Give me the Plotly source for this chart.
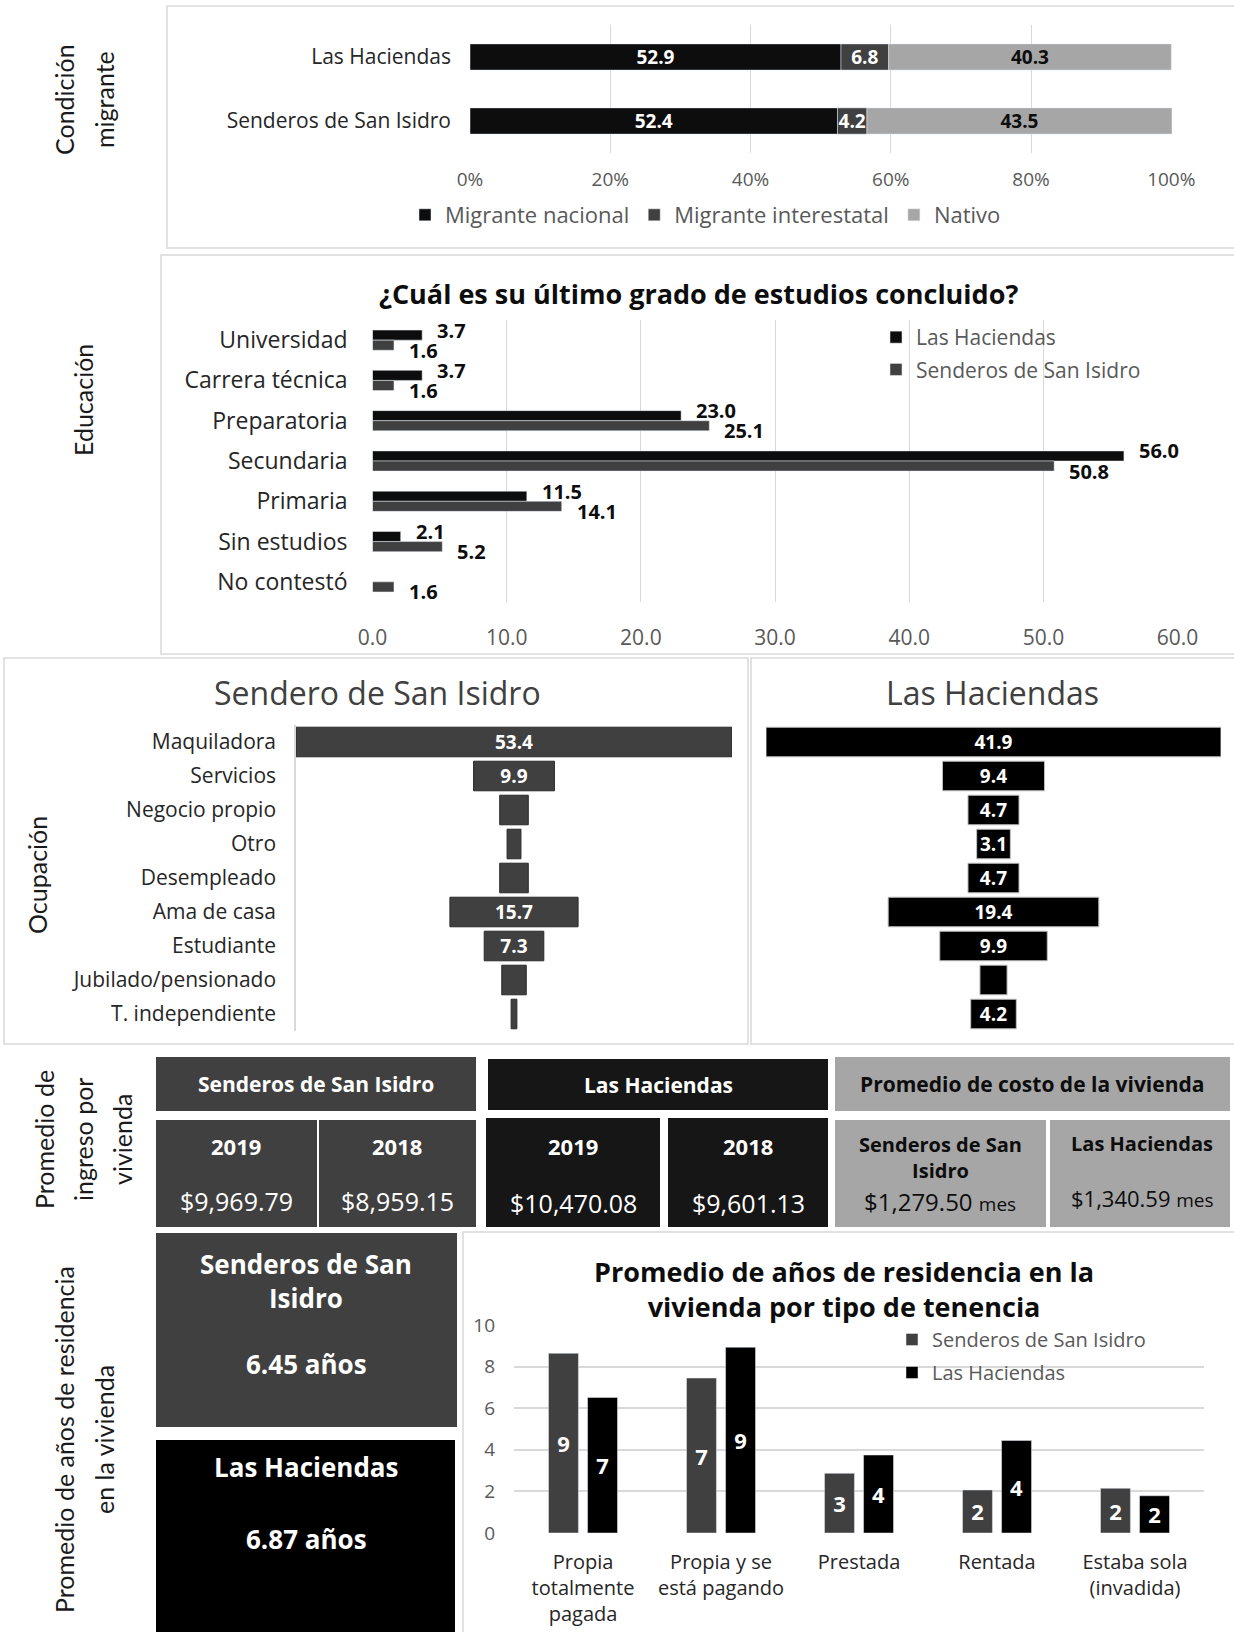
import plotly.graph_objects as go

W, H = 1234, 1632


def fx(px):
    return px / W


def fy(py):
    return 1 - py / H


FONT = "Open Sans"
SIDE_FONT = "Lato"
BLACK = "#0d0d0d"
DARK = "#404040"
LIGHT = "#a6a6a6"
GRID = "#d9d9d9"
TICK = "#595959"
LABEL = "#262626"

# --- Condición migrante (stacked %) ---
mig_groups = ["Senderos de San Isidro", "Las Haciendas"]
mig_nacional = [52.4, 52.9]
mig_interestatal = [4.2, 6.8]
mig_nativo = [43.5, 40.3]
pct_ticks = [0, 20, 40, 60, 80, 100]

# --- Educación ---
edu_levels = ["Universidad", "Carrera técnica", "Preparatoria", "Secundaria",
              "Primaria", "Sin estudios", "No contestó"]
edu_haciendas = [3.7, 3.7, 23.0, 56.0, 11.5, 2.1, None]
edu_senderos = [1.6, 1.6, 25.1, 50.8, 14.1, 5.2, 1.6]

# --- Ocupación ---
occ_labels = ["Maquiladora", "Servicios", "Negocio propio", "Otro", "Desempleado",
              "Ama de casa", "Estudiante", "Jubilado/pensionado", "T. independiente"]
occ_senderos = [53.4, 9.9, 3.5, 1.7, 3.5, 15.7, 7.3, 3.0, 0.7]
occ_senderos_shown = [True, True, False, False, False, True, True, False, False]
occ_haciendas = [41.9, 9.4, 4.7, 3.1, 4.7, 19.4, 9.9, 2.5, 4.2]
occ_haciendas_shown = [True, True, True, True, True, True, True, False, True]

# --- Ingreso y costo de vivienda ---
income_years = ["2019", "2018"]
income_senderos = [9969.79, 8959.15]
income_haciendas = [10470.08, 9601.13]
housing_cost = [1279.50, 1340.59]

# --- Años de residencia ---
residence_avg_senderos = 6.45
residence_avg_haciendas = 6.87
tenure = ["Propia<br>totalmente<br>pagada", "Propia y se<br>está pagando",
          "Prestada", "Rentada", "Estaba sola<br>(invadida)"]
years_senderos = [8.64, 7.45, 2.87, 2.07, 2.15]
years_haciendas = [6.52, 8.93, 3.75, 4.45, 1.79]

fig = go.Figure()

# ---------- Panel 1: stacked migrant condition ----------
base_inter = mig_nacional
base_nativo = [a + b for a, b in zip(mig_nacional, mig_interestatal)]
for name, vals, base, color, tcolor in [
    ("Migrante nacional", mig_nacional, [0, 0], BLACK, "white"),
    ("Migrante interestatal", mig_interestatal, base_inter, DARK, "white"),
    ("Nativo", mig_nativo, base_nativo, LIGHT, BLACK),
]:
    fig.add_trace(go.Bar(
        y=mig_groups, x=vals, base=base, orientation="h", name=name,
        width=0.41, offset=-0.205, marker=dict(color=color),
        text=[f"{v:.1f}" for v in vals], textposition="inside", textangle=0,
        insidetextanchor="middle", constraintext="none", cliponaxis=False,
        textfont=dict(family=FONT, size=19, color=tcolor, weight="bold"),
        xaxis="x", yaxis="y", legend="legend", hoverinfo="skip",
    ))

# ---------- Panel 2: education ----------
fig.add_trace(go.Bar(
    y=edu_levels, x=edu_haciendas, orientation="h", name="Las Haciendas",
    width=0.25, offset=-0.25, marker=dict(color=BLACK), legendgroup="lh",
    xaxis="x2", yaxis="y2", legend="legend2", hoverinfo="skip",
))
fig.add_trace(go.Bar(
    y=edu_levels, x=edu_senderos, orientation="h", name="Senderos de San Isidro",
    width=0.25, offset=0.0, marker=dict(color=DARK), legendgroup="ssi",
    xaxis="x2", yaxis="y2", legend="legend2", hoverinfo="skip",
))

annotations = []
VAL_FONT = dict(family=FONT, size=20, color=BLACK, weight="bold")
for i, v in enumerate(edu_haciendas):
    if v is None:
        continue
    annotations.append(dict(x=v, y=i - 0.125, xref="x2", yref="y2", text=f"{v:.1f}",
                            showarrow=False, xanchor="left", yanchor="middle",
                            xshift=13, yshift=5, font=VAL_FONT))
for i, v in enumerate(edu_senderos):
    annotations.append(dict(x=v, y=i + 0.125, xref="x2", yref="y2", text=f"{v:.1f}",
                            showarrow=False, xanchor="left", yanchor="middle",
                            xshift=13, yshift=-5, font=VAL_FONT))

# ---------- Panel 3: occupation funnels ----------
for vals, shown, color, lcolor, xa, ya in [
    (occ_senderos, occ_senderos_shown, DARK, "#2a2a2a", "x3", "y3"),
    (occ_haciendas, occ_haciendas_shown, "#000000", "#bfbfbf", "x4", "y4"),
]:
    fig.add_trace(go.Bar(
        y=occ_labels, x=vals, base=[-v / 2 for v in vals], orientation="h",
        width=0.87, offset=-0.435,
        marker=dict(color=color, line=dict(color=lcolor, width=1)),
        text=[f"{v:.1f}" if s else "" for v, s in zip(vals, shown)],
        textposition="inside", textangle=0, insidetextanchor="middle",
        constraintext="none",
        textfont=dict(family=FONT, size=19, color="white", weight="bold"),
        xaxis=xa, yaxis=ya, showlegend=False, hoverinfo="skip",
    ))

# ---------- Panel 5: years by tenure ----------
fig.add_trace(go.Bar(
    x=tenure, y=years_senderos, name="Senderos de San Isidro",
    width=0.217, offset=-0.25, marker=dict(color=DARK), legendgroup="ssi5",
    texttemplate="%{y:.0f}", textposition="inside", textangle=0,
    insidetextanchor="middle", constraintext="none",
    textfont=dict(family=FONT, size=22, color="white", weight="bold"),
    xaxis="x5", yaxis="y5", legend="legend3", hoverinfo="skip",
))
fig.add_trace(go.Bar(
    x=tenure, y=years_haciendas, name="Las Haciendas",
    width=0.217, offset=0.033, marker=dict(color="#000000"), legendgroup="lh5",
    texttemplate="%{y:.0f}", textposition="inside", textangle=0,
    insidetextanchor="middle", constraintext="none",
    textfont=dict(family=FONT, size=22, color="white", weight="bold"),
    xaxis="x5", yaxis="y5", legend="legend3", hoverinfo="skip",
))

# ---------- Shapes: panel frames, table cells, summary boxes ----------
shapes = []


def frame(x0, y0, x1, y1):
    shapes.append(dict(type="rect", xref="paper", yref="paper",
                       x0=fx(x0), x1=fx(x1), y0=fy(y1), y1=fy(y0),
                       line=dict(color=GRID, width=1.5), fillcolor="rgba(0,0,0,0)",
                       layer="below"))


def cell(x0, y0, x1, y1, color):
    shapes.append(dict(type="rect", xref="paper", yref="paper",
                       x0=fx(x0), x1=fx(x1), y0=fy(y1), y1=fy(y0),
                       line=dict(width=0), fillcolor=color, layer="below"))


frame(167, 6, 1240, 248)
frame(161, 255, 1240, 654)
frame(4, 658, 748, 1044)
frame(751, 658, 1240, 1044)
frame(463, 1232, 1240, 1640)

TABLE_BLACK = "#161616"
cell(156, 1057, 476, 1111, DARK)
cell(488, 1059, 828, 1110, TABLE_BLACK)
cell(835, 1057, 1230, 1111, LIGHT)
cell(156, 1120, 317, 1227, DARK)
cell(319, 1120, 476, 1227, DARK)
cell(486, 1118, 660, 1227, TABLE_BLACK)
cell(668, 1118, 828, 1227, TABLE_BLACK)
cell(835, 1120, 1046, 1227, LIGHT)
cell(1050, 1120, 1230, 1227, LIGHT)
cell(156, 1233, 457, 1427, DARK)
cell(156, 1440, 455, 1640, "#000000")


def text(x, y, s, size, color=BLACK, bold=False, angle=0, family=FONT):
    annotations.append(dict(x=fx(x), y=fy(y), xref="paper", yref="paper", text=s,
                            showarrow=False, xanchor="center", yanchor="middle",
                            textangle=angle,
                            font=dict(family=family, size=size, color=color,
                                      weight="bold" if bold else "normal")))


# side labels
SIDE = "#1a1a1a"
text(64, 100, "Condición", 25, SIDE, angle=-90, family=SIDE_FONT)
text(104, 100, "migrante", 25, SIDE, angle=-90, family=SIDE_FONT)
text(83, 400, "Educación", 25, SIDE, angle=-90, family=SIDE_FONT)
text(37, 875, "Ocupación", 25, SIDE, angle=-90, family=SIDE_FONT)
text(44, 1140, "Promedio de", 25, SIDE, angle=-90, family=SIDE_FONT)
text(83, 1140, "ingreso por", 25, SIDE, angle=-90, family=SIDE_FONT)
text(122, 1140, "vivienda", 25, SIDE, angle=-90, family=SIDE_FONT)
text(64, 1440, "Promedio de años de residencia", 25, SIDE, angle=-90, family=SIDE_FONT)
text(104, 1440, "en la vivienda", 25, SIDE, angle=-90, family=SIDE_FONT)

# chart titles
text(698, 293, "¿Cuál es su último grado de estudios concluido?", 27, BLACK, bold=True)
text(377, 693, "Sendero de San Isidro", 32, DARK)
text(992, 693, "Las Haciendas", 32, DARK)
text(844, 1289, "Promedio de años de residencia en la<br>vivienda por tipo de tenencia",
     27, BLACK, bold=True)

# income table
text(316, 1084, mig_groups[0], 21, "white", bold=True)
text(658, 1085, mig_groups[1], 21, "white", bold=True)
text(1032, 1084, "Promedio de costo de la vivienda", 21, BLACK, bold=True)
for cx, yr, val in zip([236, 397], income_years, income_senderos):
    text(cx, 1146, yr, 22, "white", bold=True)
    text(cx, 1201, f"${val:,.2f}", 25, "white")
for cx, yr, val in zip([573, 748], income_years, income_haciendas):
    text(cx, 1146, yr, 22, "white", bold=True)
    text(cx, 1203, f"${val:,.2f}", 25, "white")
text(940, 1157, "Senderos de San<br>Isidro", 20, BLACK, bold=True)
text(1142, 1143, "Las Haciendas", 20, BLACK, bold=True)
text(940, 1201, f"${housing_cost[0]:,.2f} <span style='font-size:19px'>mes</span>", 24, BLACK)
text(1142, 1198, f"${housing_cost[1]:,.2f} <span style='font-size:19px'>mes</span>", 22, BLACK)

# residence summary boxes
text(306, 1281, "Senderos de San<br>Isidro", 26, "white", bold=True)
text(306, 1364, f"{residence_avg_senderos:.2f} años", 26, "white", bold=True)
text(306, 1467, "Las Haciendas", 26, "white", bold=True)
text(306, 1539, f"{residence_avg_haciendas:.2f} años", 26, "white", bold=True)

fig.update_layout(
    width=W, height=H, margin=dict(l=0, r=0, t=0, b=0, pad=0, autoexpand=False),
    paper_bgcolor="white", plot_bgcolor="rgba(0,0,0,0)",
    barmode="overlay", font=dict(family=FONT, color=LABEL),
    shapes=shapes, annotations=annotations,
    xaxis=dict(domain=[fx(470), fx(1172)], range=[0, 100.1],
               tickmode="array", tickvals=pct_ticks,
               ticktext=[f"{v}%" for v in pct_ticks],
               showgrid=True, gridcolor=GRID, gridwidth=1.2, zeroline=False,
               tickfont=dict(size=19, color=TICK), ticklabelstandoff=13,
               anchor="y", fixedrange=True, automargin=False),
    yaxis=dict(domain=[fy(153), fy(25)], type="category",
               categoryorder="array", categoryarray=mig_groups, range=[-0.5, 1.5],
               showgrid=False, zeroline=False,
               tickfont=dict(size=21, color=LABEL), ticklabelstandoff=18,
               anchor="x", fixedrange=True, automargin=False),
    xaxis2=dict(domain=[fx(372.5), fx(1177.6)], range=[0, 60], tick0=0, dtick=10,
                tickformat=".1f", showgrid=True, gridcolor=GRID, gridwidth=1.2,
                zeroline=False, tickfont=dict(size=21, color=TICK),
                ticklabelstandoff=21, anchor="y2", fixedrange=True, automargin=False),
    yaxis2=dict(domain=[fy(602), fy(320)], type="category",
                categoryorder="array", categoryarray=edu_levels, range=[6.5, -0.5],
                showgrid=False, zeroline=False,
                tickfont=dict(size=23, color=LABEL), ticklabelstandoff=24,
                anchor="x2", fixedrange=True, automargin=False),
    xaxis3=dict(domain=[fx(296), fx(732)], range=[-26.7, 26.7], visible=False,
                anchor="y3", fixedrange=True),
    yaxis3=dict(domain=[fy(1031), fy(725)], type="category",
                categoryorder="array", categoryarray=occ_labels, range=[8.5, -0.5],
                showgrid=False, zeroline=False, showline=True, linecolor=GRID,
                linewidth=1.5, tickfont=dict(size=21, color=LABEL),
                ticklabelstandoff=14, anchor="x3", fixedrange=True, automargin=False),
    xaxis4=dict(domain=[fx(766), fx(1221)], range=[-20.95, 20.95], visible=False,
                anchor="y4", fixedrange=True),
    yaxis4=dict(domain=[fy(1031), fy(725)], type="category",
                categoryorder="array", categoryarray=occ_labels, range=[8.5, -0.5],
                visible=False, anchor="x4", fixedrange=True),
    xaxis5=dict(domain=[fx(514), fx(1204)], type="category",
                categoryorder="array", categoryarray=tenure, range=[-0.5, 4.5],
                showgrid=False, zeroline=False,
                tickfont=dict(size=20, color=LABEL), ticklabelstandoff=15,
                anchor="y5", fixedrange=True, automargin=False),
    yaxis5=dict(domain=[fy(1533), fy(1325)], range=[0, 10], tick0=0, dtick=2,
                showgrid=True, gridcolor=GRID, gridwidth=1.5, zeroline=False,
                tickfont=dict(size=19, color=TICK), ticklabelstandoff=18,
                anchor="x5", fixedrange=True, automargin=False),
    legend=dict(orientation="h", x=fx(405), y=fy(215), xanchor="left", yanchor="middle",
                font=dict(size=22, color=TICK), itemwidth=30, traceorder="normal",
                bgcolor="rgba(0,0,0,0)"),
    legend2=dict(x=fx(876), y=fy(317), xanchor="left", yanchor="top",
                 font=dict(size=21, color=TICK), itemwidth=30, traceorder="grouped",
                 tracegroupgap=2, bgcolor="rgba(0,0,0,0)"),
    legend3=dict(x=fx(892), y=fy(1320), xanchor="left", yanchor="top",
                 font=dict(size=20, color=TICK), itemwidth=30, traceorder="grouped",
                 tracegroupgap=4, bgcolor="rgba(0,0,0,0)"),
)

fig.write_html("out.html")
